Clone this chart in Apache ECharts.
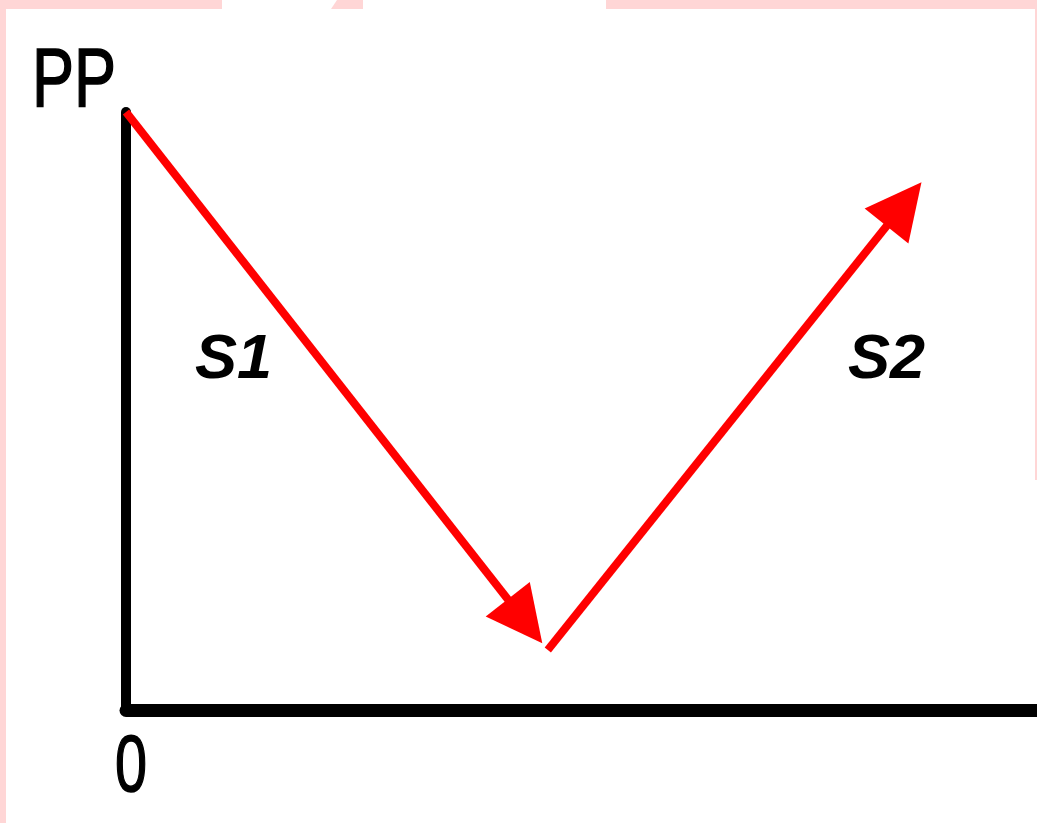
<!DOCTYPE html>
<html>
<head>
<meta charset="utf-8">
<script src="https://cdn.jsdelivr.net/npm/echarts@6/dist/echarts.min.js"></script>
<style>
  html, body { margin: 0; padding: 0; background: #fff; }
  #chart { width: 1037px; height: 823px; }
</style>
</head>
<body>
<div id="chart"></div>
<script>
// two arrows: S1 falls, S2 rises (axis units 0-100)
const seriesNames = ['S1', 'S2']
const fromX = [0, 46.3]
const fromY = [100, 10.1]
const toX = [43.8, 85.4]
const toY = [14.9, 84.6]

const yAxisName = 'PP'
const originLabel = '0'

const chart = echarts.init(document.getElementById('chart'))

const pink = '#ffd6d6'
const red = '#ff0000'
const font = '"Liberation Sans", Arial, sans-serif'

const option = {
  backgroundColor: '#fff',
  animation: false,
  grid: { left: 126, right: 0, top: 112, bottom: 112.5 },
  xAxis: {
    type: 'value', min: 0, max: 100,
    axisLine: { lineStyle: { color: '#000', width: 13 } },
    axisTick: { show: false }, axisLabel: { show: false }, splitLine: { show: false }
  },
  yAxis: {
    type: 'value', min: 0, max: 100,
    axisLine: { show: true, lineStyle: { color: '#000', width: 10 } },
    axisTick: { show: false }, axisLabel: { show: false }, splitLine: { show: false }
  },
  series: [{
    type: 'lines',
    coordinateSystem: 'cartesian2d',
    symbol: ['none', 'triangle'],
    symbolSize: [63, 56],
    lineStyle: { color: red, width: 8, opacity: 1 },
    data: seriesNames.map((n, i) => ({
      name: n,
      coords: [[fromX[i], fromY[i]], [toX[i], toY[i]]]
    }))
  }],
  graphic: [
    { type: 'rect', shape: { x: 0, y: 0, width: 222, height: 9 }, style: { fill: pink }, silent: true },
    { type: 'rect', shape: { x: 606, y: 0, width: 431, height: 9 }, style: { fill: pink }, silent: true },
    { type: 'polygon', shape: { points: [[337, 0], [363, 0], [363, 9], [331, 9]] }, style: { fill: pink }, silent: true },
    { type: 'rect', shape: { x: 0, y: 0, width: 6, height: 823 }, style: { fill: pink }, silent: true },
    { type: 'rect', shape: { x: 1035, y: 0, width: 2, height: 480 }, style: { fill: pink }, silent: true },
    {
      type: 'text', x: 32, y: 83, scaleX: 0.76,
      style: { text: yAxisName, font: '83px ' + font, fill: '#000', stroke: '#000', lineWidth: 1.5, align: 'left', verticalAlign: 'middle' }
    },
    {
      type: 'text', x: 115, y: 769, scaleX: 0.72,
      style: { text: originLabel, font: '80px ' + font, fill: '#000', stroke: '#000', lineWidth: 1.5, align: 'left', verticalAlign: 'middle' }
    },
    {
      type: 'text', x: 195, y: 361,
      style: { text: seriesNames[0], font: 'italic bold 63px ' + font, fill: '#000', align: 'left', verticalAlign: 'middle' }
    },
    {
      type: 'text', x: 848, y: 361,
      style: { text: seriesNames[1], font: 'italic bold 63px ' + font, fill: '#000', align: 'left', verticalAlign: 'middle' }
    }
  ]
}

chart.setOption(option)
</script>
</body>
</html>
